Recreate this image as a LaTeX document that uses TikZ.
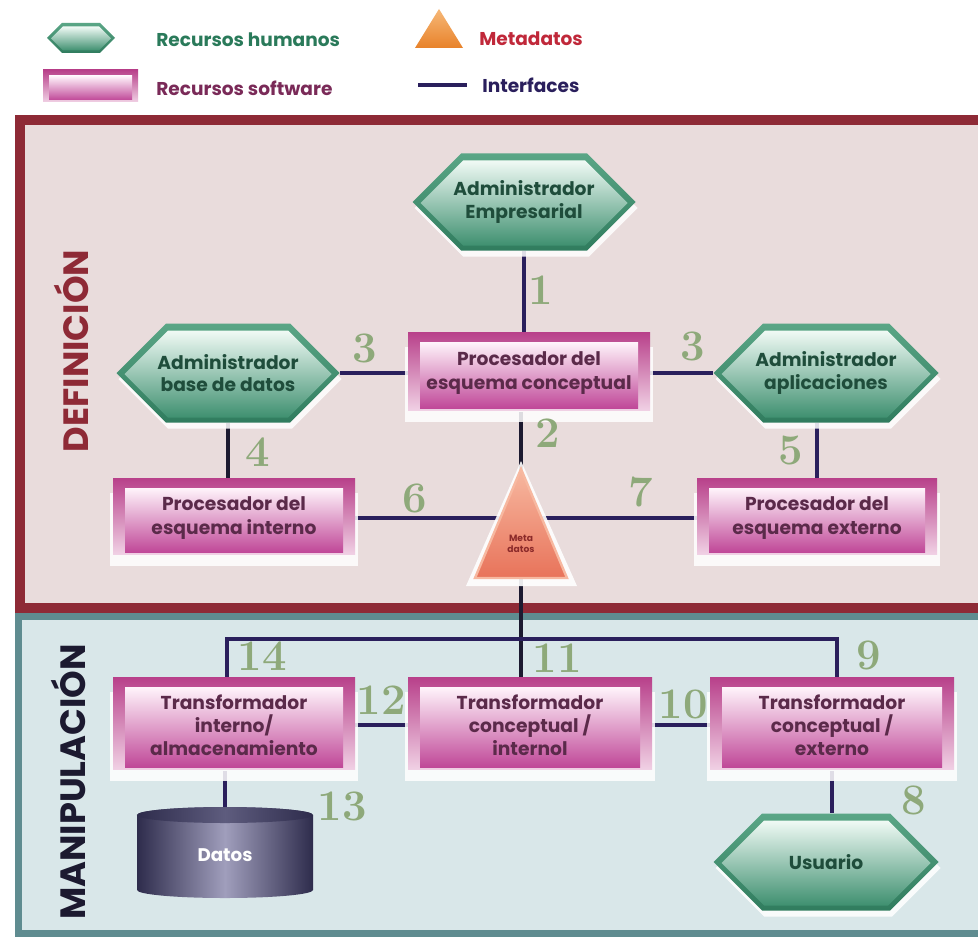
\documentclass[tikz,border=0pt]{standalone}
\usepackage{fontspec}
\newfontfamily\pop{Poppins}
\usetikzlibrary{calc}

\definecolor{defFill}{HTML}{E9DCDC}
\definecolor{defEdge}{HTML}{8E2A36}
\definecolor{manFill}{HTML}{D9E7E9}
\definecolor{manEdge}{HTML}{5F8C90}
\definecolor{hexEdgeT}{HTML}{5AA686}
\definecolor{hexEdgeB}{HTML}{307C5E}
\definecolor{hexInT}{HTML}{F0FAF5}
\definecolor{hexInM}{HTML}{A9DAC5}
\definecolor{hexInB}{HTML}{3F9070}
\definecolor{hexText}{HTML}{1F4D3B}
\definecolor{boxEdgeT}{HTML}{B8408A}
\definecolor{boxEdgeB}{HTML}{F0D0E4}
\definecolor{boxInT}{HTML}{FFF4FB}
\definecolor{boxInM}{HTML}{EDC2DC}
\definecolor{boxInB}{HTML}{C04898}
\definecolor{boxText}{HTML}{5B2A4A}
\definecolor{wire}{HTML}{2A1F5C}
\definecolor{wireDark}{HTML}{1C1A30}
\definecolor{numGreen}{HTML}{8EA97A}
\definecolor{metaT}{HTML}{F7B8A0}
\definecolor{metaB}{HTML}{E8735A}
\definecolor{metaText}{HTML}{8B2A2A}
\definecolor{legTriT}{HTML}{F6B878}
\definecolor{legTriB}{HTML}{E8822A}
\definecolor{legGreen}{HTML}{2A7A5A}
\definecolor{legPlum}{HTML}{7A2A58}
\definecolor{legRed}{HTML}{C0283A}
\definecolor{cylDark}{HTML}{2E2C4C}
\definecolor{cylLight}{HTML}{A09EBC}
\definecolor{cylTop}{HTML}{5E5C7E}

\pgfdeclarelayer{panel}
\pgfdeclarelayer{wires}
\pgfsetlayers{panel,wires,main}

\def\pxu{0.025cm}

\tikzset{
  hexlabel/.style={inner sep=0pt, align=center, text=hexText,
    font={\pop\bfseries\fontsize{13.3}{16}\selectfont}},
  boxlabel/.style={inner sep=0pt, align=center, text=boxText,
    font={\pop\bfseries\fontsize{13.3}{16.5}\selectfont}},
  numlbl/.style={inner sep=0pt, text=numGreen,
    font={\fontsize{31}{31}\selectfont\bfseries}},
  leglbl/.style={inner sep=0pt, anchor=west,
    font={\pop\bfseries\fontsize{13.2}{15}\selectfont}},
  panellbl/.style={inner sep=0pt, rotate=90,
    font={\pop\bfseries\fontsize{25}{27}\selectfont}},
  link/.style={draw=wire, line width=0.1cm},
  darklink/.style={draw=wireDark, line width=0.1cm},
}

% elongated hexagon: options, centre x, centre y, width, height
\newcommand\hexshape[5]{%
  \pgfmathsetmacro\hxa{#2-(#4)/2}%
  \pgfmathsetmacro\hxb{#2-(#4)/2+(#5)/2}%
  \pgfmathsetmacro\hxc{#2+(#4)/2-(#5)/2}%
  \pgfmathsetmacro\hxd{#2+(#4)/2}%
  \pgfmathsetmacro\hyt{#3-(#5)/2}%
  \pgfmathsetmacro\hyb{#3+(#5)/2}%
  \path[#1] (\hxa,#3) -- (\hxb,\hyt) -- (\hxc,\hyt) -- (\hxd,#3)
    -- (\hxc,\hyb) -- (\hxb,\hyb) -- cycle;}

% glow, green rim and shaded face of a hexagon
\newcommand\hexbody[6]{%
  \hexshape{fill=white,opacity=.85}{#1+2}{#2+6}{#3}{#4}%
  \hexshape{top color=hexEdgeT,bottom color=hexEdgeB}{#1}{#2}{#3}{#4}%
  \hexshape{top color=hexInT,middle color=hexInM,bottom color=hexInB}{#1}{#2+1}{#3-#5}{#4-#6}}

% named hexagon node: name, x, y, width, height, text
\newcommand\mkhex[6]{%
  \hexbody{#2}{#3}{#4}{#5}{16}{12}%
  \node[hexlabel, minimum width=#4*\pxu, minimum height=#5*\pxu] (#1) at (#2,#3) {#6};}

% glow, magenta frame and shaded face of a box
\newcommand\boxbody[6]{%
  \fill[white,opacity=.85] ({#1-(#3)/2-3},{#2-(#4)/2+15}) rectangle ({#1+(#3)/2+3},{#2+(#4)/2+12});
  \shade[top color=boxEdgeT,bottom color=boxEdgeB] ({#1-(#3)/2},{#2-(#4)/2}) rectangle ({#1+(#3)/2},{#2+(#4)/2});
  \shade[top color=boxInT,middle color=boxInM,bottom color=boxInB]
    ({#1-(#3)/2+#5},{#2-(#4)/2+#6}) rectangle ({#1+(#3)/2-#5},{#2+(#4)/2-2});}

% named box node: name, x, y, width, height, text
\newcommand\mkbox[6]{%
  \boxbody{#2}{#3}{#4}{#5}{12}{10}%
  \node[boxlabel, minimum width=#4*\pxu, minimum height=#5*\pxu] (#1) at (#2,#3+2) {#6};}

\begin{document}
\begin{tikzpicture}[x=0.025cm,y=-0.025cm]
\useasboundingbox (0,0) rectangle (978,939);

% ---------- panels ----------
\begin{pgfonlayer}{panel}
  \fill[white] (0,0) rectangle (978,939);
  \filldraw[fill=defFill, draw=defEdge, line width=0.25cm] (20,120) rectangle (1000,608);
  \filldraw[fill=manFill, draw=manEdge, line width=0.175cm] (18.5,616.5) rectangle (1000,933.5);
\end{pgfonlayer}

\node[panellbl, text=defEdge] (tdef) at (71,351) {DEFINICIÓN};
\node[panellbl, text=wireDark] (tman) at (68,782) {MANIPULACIÓN};

% ---------- legend ----------
\hexshape{top color=hexEdgeT,bottom color=hexEdgeB}{81}{38}{68}{30}
\hexshape{top color=hexInT,middle color=hexInM,bottom color=hexInB}{81}{38.5}{60}{24}
\node[leglbl, text=legGreen] (lhum) at (156,40) {Recursos humanos};

\shade[top color=boxEdgeT,bottom color=boxEdgeB] (43,70) rectangle (138,102);
\shade[top color=boxInT,middle color=boxInM,bottom color=boxInB] (49,76) rectangle (132,100);
\node[leglbl, text=legPlum] (lsw) at (156,88) {Recursos software};

\shade[top color=legTriT,bottom color=legTriB] (415,48) -- (439,9) -- (463,48) -- cycle;
\node[leglbl, text=legRed] (lmeta) at (479,39) {Metadatos};

\coordinate (lwa) at (418,85);
\coordinate (lwb) at (467,85);
\draw[link] (lwa) -- (lwb);
\node[leglbl, text=wire] (lint) at (482,85) {Interfaces};

% ---------- definition level ----------
\mkhex{adm}{524}{202}{223}{97}{Administrador\\Empresarial}
\mkbox{pc}{529}{371}{242}{78}{Procesador del\\esquema conceptual}
\mkhex{adb}{228}{373}{223}{99}{Administrador\\base de datos}
\mkhex{aap}{826}{373}{225}{99}{Administrador\\aplicaciones}
\mkbox{pi}{234}{516}{242}{76}{Procesador del\\esquema interno}
\mkbox{pe}{817}{516}{240}{76}{Procesador del\\esquema externo}

% metadata triangle
\fill[white,opacity=.9] (521,461) -- (577,586) -- (466,586) -- cycle;
\shade[top color=metaT,bottom color=metaB, draw=metaT, line width=0.06cm]
  (521,469) -- (567,578) -- (475,578) -- cycle;
\node[inner sep=0pt, align=center, text=metaText,
  font={\pop\bfseries\fontsize{6.5}{8}\selectfont}] (meta) at (521,544) {Meta\\datos};

% ---------- manipulation level ----------
\mkbox{tia}{234}{723}{242}{92}{Transformador\\interno/\\almacenamiento}
\mkbox{tci}{530}{723}{244}{92}{Transformador\\conceptual /\\internol}
\mkbox{tce}{832}{723}{244}{92}{Transformador\\conceptual /\\externo}

% data store cylinder
\shade[left color=cylDark, right color=cylDark, middle color=cylLight]
  (137,815) -- (137,890) arc[start angle=180, end angle=360, x radius=2.2cm, y radius=0.2cm]
  -- (313,815) arc[start angle=0, end angle=180, x radius=2.2cm, y radius=0.2cm] -- cycle;
\shade[left color=cylDark, right color=cylDark, middle color=cylTop]
  (225,815) ellipse[x radius=2.2cm, y radius=0.2cm];
\node[inner sep=0pt, text=white, minimum height=96*\pxu,
  font={\pop\bfseries\fontsize{13}{15}\selectfont}] (datos) at (225,855) {Datos};

\mkhex{usr}{826}{862}{225}{97}{Usuario}

% ---------- interfaces ----------
\coordinate (busL) at (227,639);
\coordinate (busR) at (837,639);
\begin{pgfonlayer}{wires}
  \draw[link] (adm.south) -- (adm.south |- pc.north);
  \draw[link] (adb.east) -- (adb.east -| pc.west);
  \draw[link] (aap.west) -- (aap.west -| pc.east);
  \draw[darklink] (meta.north) -- (meta.north |- pc.south);
  \draw[darklink] (adb.south) -- (adb.south |- pi.north);
  \draw[link] (pe.north) -- (pe.north |- aap.south);
  \draw[link] (pi.east) -- (pi.east -| meta.center);
  \draw[link] (pe.west) -- (pe.west -| meta.center);
  \draw[darklink] (meta.south) -- (meta.south |- tci.north);
  \draw[link] (busL |- tia.north) -- (busL) -- (busR) -- (busR |- tce.north);
  \draw[link] (tia.east) -- (tia.east -| tci.west);
  \draw[link] (tci.east) -- (tci.east -| tce.west);
  \draw[link] (datos.north) -- (datos.north |- tia.south);
  \draw[link] (tce.south) -- (tce.south |- usr.north);
\end{pgfonlayer}

% ---------- interface numbers ----------
\node[numlbl] (n1)  at (541,290) {1};
\node[numlbl] (n2)  at (548,433) {2};
\node[numlbl] (n3a) at (365,348) {3};
\node[numlbl] (n3b) at (693,346) {3};
\node[numlbl] (n4)  at (258,452) {4};
\node[numlbl] (n5)  at (791,450) {5};
\node[numlbl] (n6)  at (415,498) {6};
\node[numlbl] (n7)  at (641,492) {7};
\node[numlbl] (n8)  at (914,800) {8};
\node[numlbl] (n9)  at (869,655) {9};
\node[numlbl] (n10) at (683,704) {10};
\node[numlbl] (n11) at (557,658) {11};
\node[numlbl] (n12) at (381,700) {12};
\node[numlbl] (n13) at (342,806) {13};
\node[numlbl] (n14) at (262,656) {14};
\end{tikzpicture}
\end{document}
